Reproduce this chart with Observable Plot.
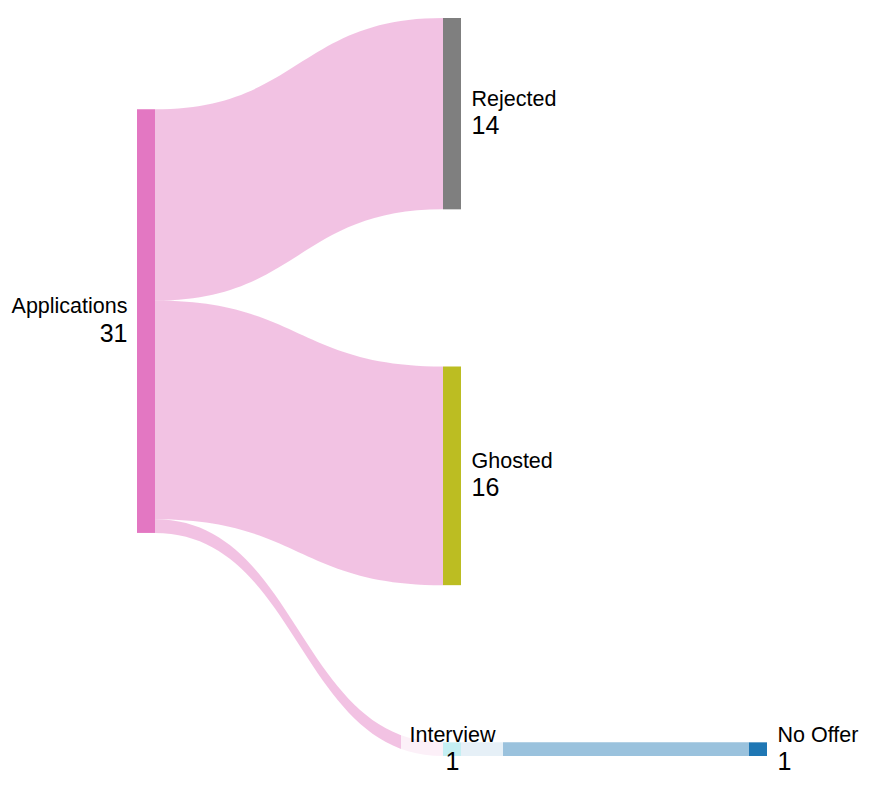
<!DOCTYPE html>
<html>
<head>
<meta charset="utf-8">
<script src="https://cdn.jsdelivr.net/npm/d3@7"></script>
<script src="https://cdn.jsdelivr.net/npm/@observablehq/plot@0.6"></script>
<style>
  body { margin: 0; background: #fff; }
  #chart svg { display: block; }
</style>
</head>
<body>
<div id="chart"></div>
<script>
// sankey data
const nodes = ["Applications", "Rejected", "Ghosted", "Interview", "No Offer"];
const linkSource = ["Applications", "Applications", "Applications", "Interview"];
const linkTarget = ["Rejected", "Ghosted", "Interview", "No Offer"];
const linkValue = [14, 16, 1, 1];

const width = 872, height = 792;
const margin = { top: 18, right: 105, bottom: 36, left: 137 };
const nodeWidthPx = 18;
const nodePadding = 11.5; // in value units
const font = "Liberation Sans, Arial, sans-serif";
const labelSize = 21.5, valueSize = 25;

// colours: category10 starting at pink
const palette = d3.schemeCategory10.slice(6).concat(d3.schemeCategory10.slice(0, 6));

// --- small sankey layout (values only, pixels come from Plot scales) ---
const links = linkSource.map((s, i) => ({ id: i, source: s, target: linkTarget[i], value: linkValue[i] }));
const byName = new Map(nodes.map((name, i) => [name, { name, i, ins: [], outs: [] }]));
links.forEach(l => { byName.get(l.source).outs.push(l); byName.get(l.target).ins.push(l); });

function depthOf(n) {
  if (n.depth != null) return n.depth;
  n.depth = n.ins.length ? d3.max(n.ins, l => depthOf(byName.get(l.source)) + 1) : 0;
  return n.depth;
}
const nodeData = nodes.map(name => byName.get(name));
nodeData.forEach(n => {
  depthOf(n);
  n.value = Math.max(d3.sum(n.ins, l => l.value), d3.sum(n.outs, l => l.value));
});
const maxDepth = d3.max(nodeData, n => n.depth);
const columns = d3.range(maxDepth + 1).map(d => nodeData.filter(n => n.depth === d));
const colSpan = col => d3.sum(col, n => n.value) + (col.length - 1) * nodePadding;
const span = d3.max(columns, colSpan);
const widest = d3.maxIndex(columns, colSpan);

// stack the widest column, the others sit at the weighted centre of their neighbours
let y = 0;
columns[widest].forEach(n => { n.y0 = y; n.y1 = y + n.value; y = n.y1 + nodePadding; });
function place(col, linksOf, other) {
  col.forEach(n => {
    const ls = linksOf(n);
    const c = d3.sum(ls, l => l.value * (byName.get(other(l)).y0 + byName.get(other(l)).y1) / 2) / d3.sum(ls, l => l.value);
    n.y0 = c - n.value / 2; n.y1 = n.y0 + n.value;
  });
  col.sort((a, b) => a.y0 - b.y0);
  let yy = 0;
  col.forEach(n => { if (n.y0 < yy) { n.y0 = yy; n.y1 = yy + n.value; } yy = n.y1 + nodePadding; });
  const over = yy - nodePadding - span;
  if (over > 0) col.forEach(n => { n.y0 -= over; n.y1 -= over; });
}
for (let d = widest + 1; d <= maxDepth; d++) place(columns[d], n => n.ins, l => l.source);
for (let d = widest - 1; d >= 0; d--) place(columns[d], n => n.outs, l => l.target);

// link offsets inside nodes
nodeData.forEach(n => {
  let s = n.y0;
  n.outs.slice().sort((a, b) => byName.get(a.target).y0 - byName.get(b.target).y0)
    .forEach(l => { l.sy0 = s; s += l.value; });
  let t = n.y0;
  n.ins.slice().sort((a, b) => byName.get(a.source).y0 - byName.get(b.source).y0)
    .forEach(l => { l.ty0 = t; t += l.value; });
});

// x in column units; node width converted from pixels
const pxPerCol = (width - margin.left - margin.right - nodeWidthPx) / maxDepth;
const nodeW = nodeWidthPx / pxPerCol;
nodeData.forEach(n => {
  n.x0 = n.depth; n.x1 = n.depth + nodeW;
  n.cx = (n.x0 + n.x1) / 2; n.cy = (n.y0 + n.y1) / 2;
  n.anchor = !n.ins.length ? "end" : !n.outs.length ? "start" : "middle";
  n.lx = n.anchor === "end" ? n.x0 : n.anchor === "start" ? n.x1 : n.cx;
  n.label = n.name;
  n.count = String(n.value);
});

// links take their source colour, pass-through nodes hand over the target colour
const linkRows = links.flatMap(l => {
  const s = byName.get(l.source), t = byName.get(l.target);
  const key = s.ins.length ? l.target : l.source;
  return [
    { id: l.id, key, x: s.x1, y1: l.sy0, y2: l.sy0 + l.value },
    { id: l.id, key, x: t.x0, y1: l.ty0, y2: l.ty0 + l.value }
  ];
});

// white box behind centred labels
const ctx = document.createElement("canvas").getContext("2d");
ctx.font = `${labelSize}px ${font}`;
const middle = nodeData.filter(n => n.anchor === "middle");
const boxHalf = d3.max(middle, n => ctx.measureText(n.label).width) / 2 + 8;

const dxFor = { end: -10, start: 10, middle: 0 };
const labelMarks = ["end", "start", "middle"].flatMap(a => [
  Plot.text(nodeData, {
    filter: d => d.anchor === a, x: "lx", y: "cy", text: "label",
    textAnchor: a, dx: dxFor[a], dy: -15, fontSize: labelSize, fill: "#000"
  }),
  Plot.text(nodeData, {
    filter: d => d.anchor === a, x: "lx", y: "cy", text: "count",
    textAnchor: a, dx: dxFor[a], dy: 12, fontSize: valueSize, fill: "#000"
  })
]);

const chart = Plot.plot({
  width, height,
  marginTop: margin.top, marginRight: margin.right,
  marginBottom: margin.bottom, marginLeft: margin.left,
  x: { domain: [0, maxDepth + nodeW], axis: null },
  y: { domain: [0, span], reverse: true, axis: null },
  color: { domain: nodes, range: palette.slice(0, nodes.length) },
  style: { fontFamily: font, background: "#fff" },
  marks: [
    Plot.areaY(linkRows, {
      x: "x", y1: "y1", y2: "y2", z: "id", fill: "key",
      fillOpacity: 0.45, curve: "bump-x"
    }),
    Plot.rect(nodeData, { x1: "x0", x2: "x1", y1: "y0", y2: "y1", fill: "name" }),
    Plot.rect(middle, {
      x1: "cx", x2: "cx", y1: "cy", y2: "cy", fill: "#fff", fillOpacity: 0.75,
      insetLeft: -boxHalf, insetRight: -boxHalf, insetTop: -27, insetBottom: -27
    }),
    ...labelMarks
  ]
});

d3.select("#chart").append(() => chart);
</script>
</body>
</html>
